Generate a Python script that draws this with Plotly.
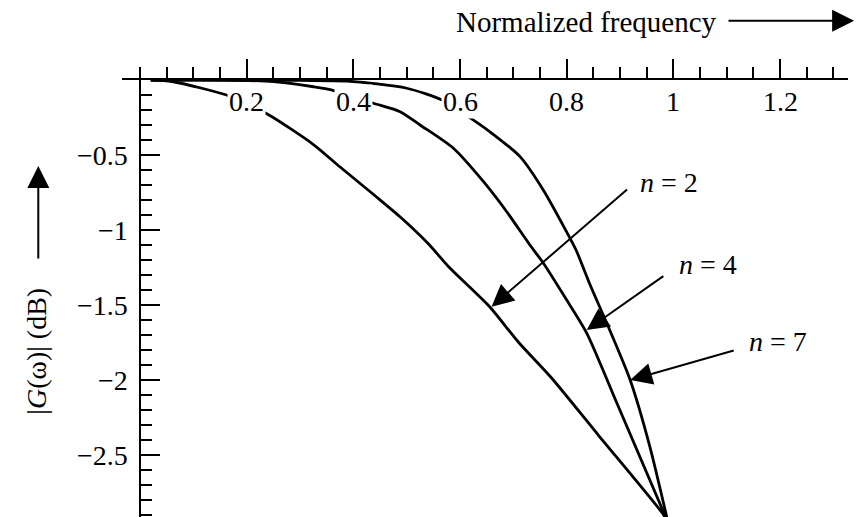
import plotly.graph_objects as go

# Gain curves |G(w)| in dB against normalized frequency, one per filter order
freq_n2 = [0.02, 0.06, 0.17, 0.24, 0.325, 0.375, 0.44, 0.49, 0.54, 0.58, 0.655, 0.71, 0.77, 0.86, 0.98, 0.99]
gain_n2 = [0.0, -0.01, -0.11, -0.23, -0.43, -0.58, -0.77, -0.92, -1.09, -1.25, -1.51, -1.75, -1.98, -2.37, -2.89, -2.95]

freq_n4 = [0.02, 0.16, 0.25, 0.325, 0.36, 0.4375, 0.4875, 0.525, 0.5875, 0.644, 0.6875, 0.731, 0.756, 0.80, 0.8375, 0.894, 0.99]
gain_n4 = [0.0, 0.0, -0.011, -0.045, -0.067, -0.155, -0.211, -0.30, -0.455, -0.678, -0.878, -1.10, -1.22, -1.467, -1.687, -2.153, -2.95]

freq_n7 = [0.02, 0.30, 0.3875, 0.50, 0.566, 0.609, 0.656, 0.7125, 0.756, 0.799, 0.8175, 0.844, 0.875, 0.919, 0.956, 0.99]
gain_n7 = [0.0, -0.003, -0.007, -0.055, -0.133, -0.229, -0.345, -0.511, -0.733, -1.007, -1.133, -1.367, -1.62, -2.0, -2.445, -2.95]

x_tick_vals = [0.2, 0.4, 0.6, 0.8, 1.0, 1.2]
x_tick_text = ["0.2", "0.4", "0.6", "0.8", "1", "1.2"]
x_minor_vals = [round(0.05 * k, 2) for k in range(0, 27)]

y_tick_vals = [-0.5, -1.0, -1.5, -2.0, -2.5]
y_tick_text = ["\u22120.5", "\u22121", "\u22121.5", "\u22122", "\u22122.5"]
y_minor_vals = [round(-0.1 * k, 1) for k in range(1, 30)]

# order label: (arrow tip x, tip y, arrow tail x, tail y, label x, label y)
order_labels = {
    2: (0.659, -1.511, 0.916, -0.722, 0.934, -0.68),
    4: (0.8375, -1.667, 0.984, -1.30, 1.006, -1.233),
    7: (0.919, -2.0, 1.116, -1.80, 1.1375, -1.744),
}

X_RANGE = [-0.034, 1.3275]
Y_RANGE = [-2.913, 0.0]
MARGIN = dict(l=122, r=8, t=80, b=0)
W, H = 856, 517
PLOT_W = W - MARGIN["l"] - MARGIN["r"]
PLOT_H = H - MARGIN["t"] - MARGIN["b"]
X_SCALE = PLOT_W / (X_RANGE[1] - X_RANGE[0])   # px per frequency unit
Y_SCALE = PLOT_H / (Y_RANGE[1] - Y_RANGE[0])   # px per dB


def px(x):
    return (x - X_RANGE[0]) / (X_RANGE[1] - X_RANGE[0])


def py(y):
    return (y - Y_RANGE[0]) / (Y_RANGE[1] - Y_RANGE[0])


FONT = "Liberation Serif, Times New Roman, serif"
BLACK = "#000000"

fig = go.Figure()
for fx, gy in [(freq_n2, gain_n2), (freq_n4, gain_n4), (freq_n7, gain_n7)]:
    fig.add_trace(go.Scatter(
        x=fx, y=gy, mode="lines",
        line=dict(color=BLACK, width=2.8, shape="spline", smoothing=0.7),
        showlegend=False, hoverinfo="skip",
    ))

annotations = []

# frequency tick labels sit under the axis on a white patch
for v, t in zip(x_tick_vals, x_tick_text):
    annotations.append(dict(
        x=v, y=-0.145, xref="x", yref="y", text=t, showarrow=False,
        xanchor="center", yanchor="middle", bgcolor="white", borderpad=1,
        font=dict(family=FONT, size=28, color=BLACK),
    ))

# gain tick labels, right-aligned just left of the vertical axis at x = 0
for v, t in zip(y_tick_vals, y_tick_text):
    annotations.append(dict(
        x=px(-0.019), y=v, xref="paper", yref="y", text=t, showarrow=False,
        xanchor="right", yanchor="middle",
        font=dict(family=FONT, size=28, color=BLACK),
    ))

for n, (tx, ty, ax, ay, lx, ly) in order_labels.items():
    annotations.append(dict(
        x=tx, y=ty, ax=ax, ay=ay, xref="x", yref="y", axref="x", ayref="y",
        text="", showarrow=True, arrowhead=2, arrowsize=2.2, arrowwidth=2,
        arrowcolor=BLACK, standoff=0,
    ))
    annotations.append(dict(
        x=lx, y=ly, xref="x", yref="y", text=f"<i>n</i> = {n}", showarrow=False,
        xanchor="left", yanchor="middle",
        font=dict(family=FONT, size=28, color=BLACK),
    ))


def arrow(tip_x, tip_y, tail_x, tail_y):
    # arrow placed outside the plotting area, tail given as pixel offset
    return dict(
        x=px(tip_x), y=py(tip_y), xref="paper", yref="paper",
        ax=(tail_x - tip_x) * X_SCALE, ay=-(tail_y - tip_y) * Y_SCALE,
        axref="pixel", ayref="pixel",
        text="", showarrow=True, arrowhead=2, arrowsize=2.2, arrowwidth=2,
        arrowcolor=BLACK, standoff=0,
    )


# axis captions with their direction arrows
annotations.append(dict(
    x=px(1.086), y=py(0.387), xref="paper", yref="paper", text="Normalized frequency",
    showarrow=False, xanchor="right", yanchor="middle",
    font=dict(family=FONT, size=29, color=BLACK),
))
annotations.append(arrow(1.339, 0.395, 1.1006, 0.395))
annotations.append(dict(
    x=px(-0.195), y=py(-1.81), xref="paper", yref="paper", text="|<i>G</i>(\u03c9)| (dB)",
    showarrow=False, textangle=-90, xanchor="center", yanchor="middle",
    font=dict(family=FONT, size=28, color=BLACK),
))
annotations.append(arrow(-0.191, -0.573, -0.191, -1.2))

fig.update_layout(
    width=W, height=H,
    margin=MARGIN,
    paper_bgcolor="white", plot_bgcolor="white",
    font=dict(family=FONT, size=28, color=BLACK),
    annotations=annotations,
    xaxis=dict(
        range=X_RANGE, side="top",
        showline=True, linewidth=2, linecolor=BLACK,
        showgrid=False, zeroline=False,
        tickmode="array", tickvals=x_tick_vals, showticklabels=False,
        ticks="outside", ticklen=19, tickwidth=2, tickcolor=BLACK,
        minor=dict(tickmode="array", tickvals=x_minor_vals, ticks="outside",
                   ticklen=11, tickwidth=2, tickcolor=BLACK, showgrid=False),
    ),
    yaxis=dict(
        range=Y_RANGE,
        anchor="free", position=px(0.0),
        showline=True, linewidth=2, linecolor=BLACK,
        showgrid=False, zeroline=False,
        tickmode="array", tickvals=y_tick_vals, showticklabels=False,
        ticks="inside", ticklen=19, tickwidth=2, tickcolor=BLACK,
        minor=dict(tickmode="array", tickvals=y_minor_vals, ticks="inside",
                   ticklen=11, tickwidth=2, tickcolor=BLACK, showgrid=False),
    ),
)

fig.write_html("out.html")
